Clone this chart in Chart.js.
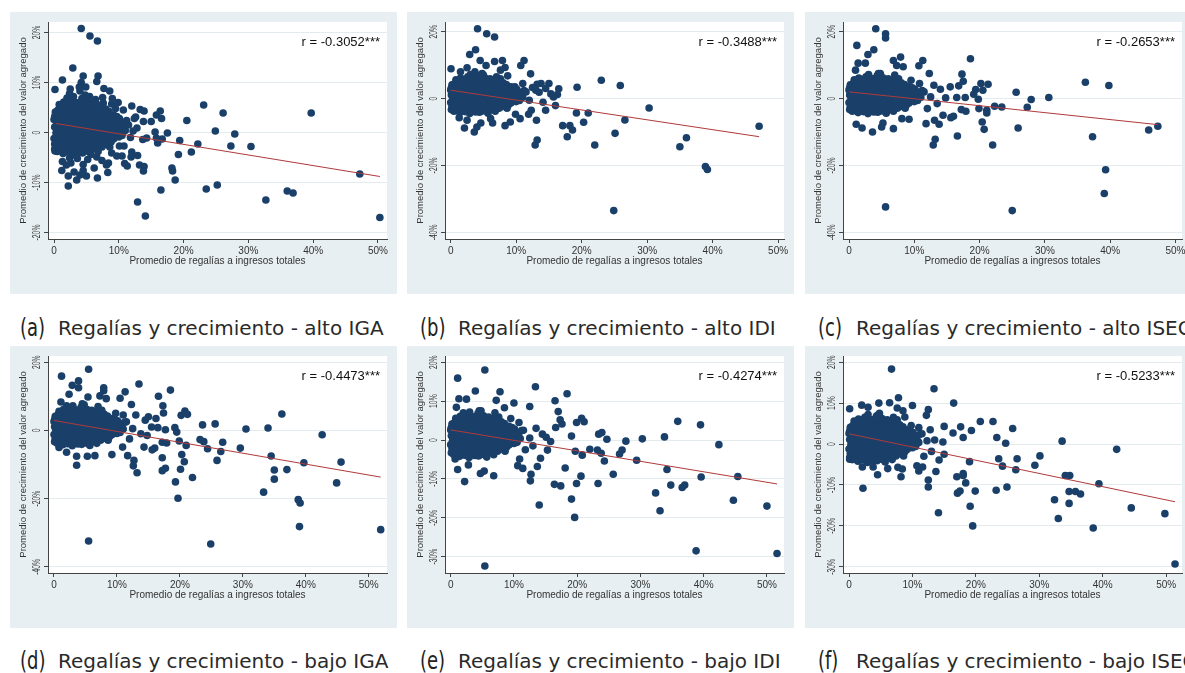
<!DOCTYPE html>
<html>
<head>
<meta charset="utf-8">
<script src="https://cdn.jsdelivr.net/npm/chart.js@4.4.0/dist/chart.umd.min.js"></script>
<style>
  body { margin: 0; background: #fff; width: 1185px; height: 673px; overflow: hidden; position: relative; }
  canvas { position: absolute; }
  .lbl { position: absolute; font-family: "DejaVu Sans", sans-serif; font-size: 25px; color: #222; line-height: 30px; transform: scaleX(0.72); transform-origin: left center; white-space: nowrap; }
  .txt { position: absolute; font-family: "DejaVu Sans", sans-serif; font-size: 20px; color: #2a2a2a; line-height: 30px; white-space: nowrap; }
</style>
</head>
<body>
<canvas id="pa" width="387" height="282"></canvas>
<canvas id="pb" width="387" height="282"></canvas>
<canvas id="pc" width="387" height="282"></canvas>
<canvas id="pd" width="387" height="282"></canvas>
<canvas id="pe" width="387" height="282"></canvas>
<canvas id="pf" width="387" height="282"></canvas>
<script>
// núcleo denso común (x: % regalías, y: % crecimiento)
const nucleo = [
  [0.2,4.1],[1.1,5.2],[2.0,4.8],[2.9,5.3],[3.8,4.9],[4.6,5.4],[5.5,5.0],[6.3,4.6],[7.2,5.1],[8.0,4.7],
  [0.1,3.2],[0.8,3.8],[1.6,3.1],[2.4,3.9],[3.3,3.0],[4.1,3.7],[5.0,3.2],[5.8,3.9],[6.7,3.1],[7.5,3.6],[8.4,3.0],[9.2,3.5],[10.1,2.8],
  [0.4,2.1],[1.2,2.6],[2.0,1.9],[2.9,2.5],[3.7,2.0],[4.6,2.7],[5.4,1.8],[6.3,2.4],[7.1,2.0],[8.0,2.6],[8.8,1.9],[9.7,2.3],[10.6,1.7],
  [0.1,1.1],[0.9,0.7],[1.7,1.3],[2.5,0.8],[3.4,1.2],[4.2,0.6],[5.1,1.1],[5.9,0.7],[6.8,1.3],[7.6,0.8],[8.5,1.0],[9.3,0.5],[10.2,0.9],[11.0,0.4],
  [0.3,-0.1],[1.1,0.2],[1.9,-0.3],[2.8,0.1],[3.6,-0.2],[4.5,0.3],[5.3,-0.4],[6.2,0.0],[7.0,-0.3],[7.9,0.2],[8.7,-0.5],[9.6,-0.1],[10.5,-0.6],
  [0.0,-1.2],[0.8,-0.9],[1.6,-1.4],[2.4,-1.0],[3.2,-1.5],[4.1,-1.1],[4.9,-1.6],[5.8,-1.0],[6.6,-1.4],[7.5,-1.2],[8.3,-1.7],[9.2,-1.3],
  [0.2,-2.3],[1.0,-2.0],[1.8,-2.5],[2.7,-2.1],[3.5,-2.6],[4.4,-2.2],[5.2,-2.7],[6.1,-2.3],[6.9,-2.8],[7.8,-2.4],[8.6,-2.9],
  [0.1,-3.3],[0.9,-3.0],[1.7,-3.6],[2.6,-3.2],[3.4,-3.7],[4.3,-3.1],[5.1,-3.5],[6.0,-3.3],[6.8,-3.8],
  [1.4,-4.2],[2.9,-4.5],[4.4,-4.1],[5.7,-4.4],
  [1.5,6.1],[2.6,6.5],[3.4,6.0],[4.3,6.8],[5.2,6.2],[6.0,5.9],[3.0,7.2],[4.8,7.5]
];

// puntos intermedios del núcleo
const nucleo2 = [
  [0.8,5.6],[1.9,5.8],[3.2,5.7],[4.0,5.9],[5.0,5.7],[6.8,5.5],[7.6,5.9],
  [0.6,4.5],[1.5,4.4],[2.4,4.6],[3.3,4.3],[4.2,4.5],[5.0,4.4],[5.9,4.6],[6.8,4.3],[7.6,4.4],[8.5,4.2],
  [0.4,3.6],[1.2,3.4],[2.0,3.5],[2.8,3.4],[3.7,3.6],[4.6,3.3],[5.4,3.5],[6.2,3.4],[7.1,3.6],[8.0,3.3],[8.8,3.5],[9.7,3.2],
  [0.0,2.6],[0.8,2.4],[1.6,2.5],[2.5,2.3],[3.3,2.6],[4.2,2.4],[5.0,2.5],[5.9,2.3],[6.7,2.6],[7.6,2.3],[8.4,2.5],[9.3,2.7],[10.2,2.2],[11.2,2.4],
  [0.5,1.6],[1.3,1.4],[2.1,1.5],[3.0,1.7],[3.8,1.4],[4.7,1.6],[5.5,1.3],[6.4,1.5],[7.2,1.7],[8.1,1.4],[8.9,1.5],[9.8,1.3],[10.7,1.5],
  [0.4,0.5],[1.3,0.6],[2.1,0.4],[3.0,0.5],[3.8,0.7],[4.7,0.4],[5.5,0.5],[6.4,0.6],[7.2,0.4],[8.1,0.5],[8.9,0.3],[9.8,0.6],[10.7,0.2],
  [0.4,-0.6],[1.2,-0.5],[2.0,-0.7],[2.9,-0.4],[3.7,-0.6],[4.6,-0.8],[5.4,-0.5],[6.3,-0.7],[7.1,-0.6],[8.0,-0.8],[9.1,-0.7],[10.0,-0.9],
  [0.4,-1.6],[1.2,-1.8],[2.0,-1.5],[2.9,-1.8],[3.7,-1.6],[4.5,-1.9],[5.4,-1.7],[6.2,-1.8],[7.1,-1.6],[7.9,-2.0],[8.8,-1.9],
  [0.6,-2.7],[1.4,-2.9],[2.3,-2.6],[3.1,-2.9],[3.9,-2.8],[4.8,-3.0],[5.6,-2.8],[6.5,-3.0],[7.4,-2.9],
  [0.5,-3.8],[1.3,-3.4],[2.2,-3.9],[3.0,-3.6],[3.8,-4.0],[4.7,-3.8],[5.5,-3.9]
];

const extraA = [
  [4.2,20.8],[5.55,19.3],[6.7,18.3],[2.9,12.9],[1.3,10.5],[4.5,11.3],[6.8,11.3],[6.6,10.2],[0.15,8.6],[4.2,10.0],
  [4.9,9.1],[3.9,9.1],[2.5,8.7],[7.7,8.8],[8.6,8.3],[4.0,8.3],[2.4,7.8],[9.9,6.0],[8.9,5.7],[0.9,5.1],
  [10.7,4.5],[12.0,5.3],[13.3,4.6],[13.9,4.3],[16.4,4.3],[16.6,2.8],[15.8,3.5],[23.1,5.5],[26.1,3.9],[39.7,3.9],
  [20.5,2.4],[15.0,2.2],[13.8,2.2],[12.4,2.8],[12.6,3.1],[24.9,0.3],[27.9,-0.3],[17.5,-0.1],[15.6,0.1],[19.4,-1.6],
  [22.2,-2.3],[27.3,-2.7],[30.4,-2.8],[21.2,-3.9],[16.7,-1.3],[16.0,-2.1],[15.8,-1.1],[14.3,-1.1],[13.7,-1.4],[19.2,-4.4],
  [18.2,-7.1],[18.3,-7.7],[18.7,-9.5],[16.5,-11.5],[23.5,-11.3],[25.2,-10.5],[12.9,-13.9],[14.1,-16.7],[32.7,-13.5],[36.0,-11.7],
  [36.9,-12.1],[47.2,-8.3],[50.3,-17.0],[12.9,-4.6],[11.9,-4.9],[13.2,-6.5],[13.9,-6.8],[13.8,-7.7],[12.0,-3.9],[10.8,-2.7],
  [10.1,-2.7],[9.7,-4.7],[10.5,-4.7],[8.9,-4.1],[8.4,-6.1],[8.1,-6.5],[8.3,-8.0],[6.7,-9.1],[6.2,-7.1],[5.0,-8.7],
  [4.0,-8.5],[3.5,-9.5],[2.2,-10.7],[2.2,-8.7],[3.1,-7.9],[1.2,-7.6],[1.3,-5.8],[1.9,-6.5],[2.6,-6.1],[4.5,-6.4],
  [4.5,-7.6],[10.9,-6.2],[11.3,-6.7],[0.15,-3.7],[0.1,-2.3],[11.5,1.5],[12.2,0.3],[11.8,-1.0],[12.8,0.9],[9.5,4.8],
  [7.5,7.0],[5.5,7.2],[3.6,-5.2],[5.2,-5.4],[6.6,-4.9],[7.4,-5.6],[2.4,-5.1],[9.0,6.8],[6.4,6.6],[2.0,6.9]
];

const extraB = [
  [4.1,20.9],[5.5,19.4],[6.7,18.4],[3.8,14.6],[2.9,13.2],[11.2,11.4],[7.9,11.4],[6.7,11.1],[4.5,11.4],[5.4,9.9],
  [10.7,9.9],[8.3,9.3],[7.6,8.5],[0.05,8.9],[2.5,9.2],[1.5,8.0],[3.7,8.0],[12.2,7.4],[8.7,6.8],[23.0,5.5],
  [25.9,3.9],[19.3,3.4],[15.0,4.5],[13.8,4.5],[13.2,4.3],[16.5,2.9],[16.3,1.2],[15.7,0.5],[15.3,1.4],[13.5,1.9],
  [12.5,3.3],[14.1,-1.1],[16.0,-2.1],[14.5,-3.5],[12.3,-3.5],[11.9,-4.7],[13.1,-6.5],[10.6,-6.0],[9.9,-4.7],[9.1,-7.0],
  [8.3,-8.1],[19.2,-4.3],[21.0,-4.3],[20.3,-7.1],[18.2,-8.1],[17.1,-8.1],[18.6,-9.4],[17.8,-11.4],[30.3,-2.8],[26.6,-6.4],
  [25.1,-10.4],[22.0,-13.9],[13.2,-12.4],[12.9,-13.9],[35.0,-14.4],[36.0,-11.7],[47.1,-8.3],[38.9,-20.3],[39.2,-21.2],[24.9,-33.5],
  [2.1,-8.8],[3.6,-10.0],[4.0,-8.5],[4.6,-7.3],[6.4,-7.3],[6.1,-6.0],[2.5,-6.5],[1.3,-5.7],[11.5,2.0],[10.8,0.5],
  [12.0,-0.5],[9.8,3.5],[11.0,4.5],[13.0,2.5],[14.5,3.0],[7.0,6.5],[5.0,7.0],[3.0,6.8]
];

const extraC = [
  [4.1,20.9],[5.6,19.4],[5.6,18.1],[1.2,15.9],[3.8,14.6],[2.9,13.2],[7.9,12.4],[18.6,11.9],[11.3,11.4],[6.8,11.4],
  [1.4,10.6],[2.5,10.6],[7.3,9.9],[10.7,9.8],[8.3,9.5],[12.3,7.5],[17.3,7.3],[1.0,8.5],[36.2,4.9],[39.8,3.9],
  [21.3,4.3],[20.2,4.5],[17.5,5.2],[25.6,1.9],[30.6,0.3],[27.9,-0.3],[27.3,-2.6],[23.4,-2.5],[22.3,-2.3],[20.5,2.5],
  [19.4,2.7],[19.1,1.3],[19.8,-0.2],[19.9,-3.0],[21.1,-3.5],[21.1,-4.3],[20.4,-7.0],[20.7,-9.2],[25.9,-8.8],[16.5,0.3],
  [17.8,0.3],[17.9,-3.8],[17.2,-3.3],[16.0,-5.3],[15.6,-5.7],[14.4,-5.0],[13.8,-7.7],[13.1,-6.5],[11.8,-7.5],[16.6,-11.2],
  [13.2,-12.2],[12.9,-13.9],[22.0,-13.9],[37.3,-11.4],[45.9,-9.4],[47.3,-8.3],[39.3,-21.3],[39.1,-28.4],[5.6,-32.4],[25.0,-33.5],
  [2.0,-8.8],[3.6,-10.0],[5.0,-8.5],[6.8,-9.0],[5.2,-7.3],[1.1,-7.7],[9.2,-6.2],[8.1,-6.0],[11.5,2.0],[12.5,0.5],
  [13.5,-1.5],[14.0,2.8],[13.0,4.0],[15.5,3.5],[16.8,3.8],[10.8,4.5],[12.0,-3.0],[14.8,0.2],[9.5,5.5],[7.0,7.0],
  [4.5,7.5]
];

const extraD = [
  [5.5,17.9],[1.2,15.9],[3.9,14.5],[2.9,13.2],[3.9,12.5],[13.5,13.6],[7.9,12.5],[7.9,11.6],[11.3,11.3],[18.5,11.8],
  [16.6,10.0],[7.3,10.1],[2.4,10.6],[5.4,9.8],[10.5,9.4],[8.3,9.3],[1.1,8.3],[12.3,7.6],[17.3,7.2],[36.2,4.8],
  [20.8,5.7],[20.2,4.4],[21.2,4.7],[17.4,5.1],[25.6,1.9],[23.6,1.6],[34.0,0.7],[30.5,0.4],[42.6,-1.3],[26.8,-3.5],
  [26.5,-6.2],[25.9,-8.8],[24.4,-5.4],[23.8,-3.3],[23.2,-2.7],[29.6,-5.2],[34.5,-7.5],[35.0,-11.6],[37.0,-11.5],[35.0,-14.3],
  [39.7,-9.5],[45.6,-9.3],[44.9,-15.4],[33.3,-18.1],[38.8,-20.3],[39.1,-21.3],[39.0,-28.2],[51.9,-29.1],[24.9,-33.3],[5.5,-32.4],
  [22.0,-13.8],[19.3,-15.1],[19.7,-19.9],[20.1,-11.4],[20.7,-9.2],[20.3,-7.1],[19.9,-3.1],[21.0,-4.4],[17.7,-11.1],[17.2,-11.8],
  [17.2,-8.0],[17.9,-3.7],[17.2,-3.5],[19.5,-0.5],[19.2,0.8],[17.7,0.2],[16.0,-5.2],[15.6,-5.7],[14.3,-4.9],[13.2,-12.4],
  [12.6,-10.4],[12.7,-8.8],[11.7,-7.4],[10.9,-4.9],[9.2,-7.1],[5.3,-7.6],[6.5,-7.4],[3.6,-7.6],[3.6,-10.2],[0.8,-5.0],
  [2.0,-6.4],[11.5,2.5],[12.5,0.5],[13.8,-1.0],[14.5,3.0],[13.0,4.5],[15.0,4.0],[16.2,3.5],[15.5,1.0],[11.0,4.5],
  [12.0,-2.5],[14.8,-1.5],[16.5,0.8],[9.8,5.0],[7.0,7.0],[4.5,7.8],[2.0,7.2]
];

const extraE = [
  [5.4,18.0],[1.1,15.9],[13.4,13.7],[3.9,12.6],[7.8,12.4],[18.4,11.9],[16.5,10.1],[7.2,10.2],[1.3,10.6],[10.0,9.5],
  [2.5,10.5],[8.5,8.3],[0.9,8.4],[12.5,8.6],[17.0,7.3],[35.9,4.8],[39.5,3.9],[20.7,5.6],[19.9,4.5],[21.1,4.7],
  [17.3,5.2],[23.9,1.9],[23.4,1.5],[24.7,0.2],[30.3,0.3],[33.8,0.8],[42.4,-1.2],[27.7,-0.3],[27.1,-2.6],[26.7,-3.6],
  [23.2,-2.6],[22.0,-2.4],[23.8,-3.4],[24.3,-5.4],[29.4,-5.2],[25.7,-8.8],[34.2,-7.6],[20.6,-9.3],[20.8,-3.9],[19.7,-2.9],
  [19.9,-11.2],[23.3,-11.2],[17.4,-11.8],[16.4,-11.4],[19.1,-15.2],[19.6,-19.9],[18.1,-7.2],[32.4,-13.6],[33.1,-18.2],[34.8,-11.6],
  [36.6,-12.2],[37.0,-11.6],[39.6,-9.5],[45.4,-9.4],[44.7,-15.5],[50.0,-17.0],[38.8,-28.5],[51.6,-29.2],[5.4,-32.4],[14.0,-16.7],
  [12.6,-10.5],[12.7,-8.8],[13.7,-6.8],[14.2,-4.7],[11.4,-7.3],[10.9,-4.9],[10.6,-6.6],[6.8,-9.2],[5.3,-8.0],[4.7,-8.6],
  [2.2,-10.7],[1.1,-7.6],[0.7,-4.9],[2.8,-6.4],[15.3,-2.6],[15.8,-0.4],[16.6,3.2],[17.6,4.1],[15.1,0.7],[19.1,1.0],
  [11.5,2.5],[12.5,0.5],[13.5,3.0],[14.5,1.5],[13.0,-1.5],[11.8,-2.5],[10.8,4.5],[9.5,5.5],[7.0,7.0],[4.5,7.5],
  [2.0,7.0]
];

const extraF = [
  [6.7,18.3],[13.4,13.5],[7.8,11.3],[16.5,10.0],[6.4,10.1],[4.7,10.0],[0.1,8.6],[2.0,9.5],[3.0,9.0],[10.0,9.4],
  [7.6,8.8],[8.5,8.1],[12.5,8.4],[8.8,6.6],[12.2,7.0],[22.7,5.5],[20.7,5.5],[25.8,3.8],[17.6,4.2],[19.3,3.3],
  [15.0,4.3],[16.4,2.7],[18.0,1.6],[23.3,1.6],[24.7,0.2],[33.6,0.7],[42.2,-1.3],[30.1,-2.9],[26.5,-3.6],[23.6,-3.6],
  [24.2,-5.4],[29.3,-5.2],[26.3,-6.3],[34.1,-7.7],[19.0,-4.3],[17.0,-8.0],[18.0,-7.2],[18.0,-7.7],[18.4,-9.5],[24.9,-10.5],
  [23.2,-11.3],[19.9,-11.5],[17.5,-11.5],[17.1,-12.0],[19.1,-15.2],[19.5,-20.0],[14.1,-16.8],[12.5,-10.5],[12.5,-8.8],[13.7,-6.7],
  [15.0,-2.5],[14.2,-3.9],[11.0,-6.6],[10.7,-5.3],[11.6,-5.6],[8.2,-8.0],[7.7,-5.7],[8.4,-6.1],[6.1,-6.0],[4.5,-7.5],
  [3.8,-5.6],[2.1,-5.6],[2.2,-10.8],[34.8,-7.7],[34.7,-11.6],[34.7,-14.5],[35.7,-11.6],[36.5,-12.2],[32.4,-13.6],[33.0,-18.2],
  [38.5,-20.5],[39.4,-9.7],[44.5,-15.6],[49.8,-17.0],[51.4,-29.3],[0.1,-3.7],[0.9,-3.7],[11.5,2.5],[12.3,0.8],[13.5,1.0],
  [14.8,0.5],[12.8,3.5],[11.0,4.0],[13.0,-1.8],[11.8,-3.0],[9.8,4.5],[7.0,6.5],[4.5,7.0],[2.5,6.5]
];

// recta de ajuste (extremos)
const ajusteA = [[0.3,1.8],[50.3,-8.8]];
const ajusteB = [[0.0,2.5],[47.1,-11.4]];
const ajusteC = [[0.1,2.0],[47.3,-7.8]];
const ajusteD = [[0.0,2.9],[51.9,-13.7]];
const ajusteE = [[0.0,2.6],[51.6,-11.3]];
const ajusteF = [[0.0,2.5],[51.4,-14.1]];

const correlaciones = ['-0.3052', '-0.3488', '-0.2653', '-0.4473', '-0.4274', '-0.5233'];
const xTicks = [0, 10, 20, 30, 40, 50];
const yTicksA = [-20, -10, 0, 10, 20];
const yTicksB = [-40, -20, 0, 20];
const yTicksE = [-30, -20, -10, 0, 10, 20];
const letras = ['(a)', '(b)', '(c)', '(d)', '(e)', '(f)'];
const subtitulos = [
  'Regalías y crecimiento - alto IGA', 'Regalías y crecimiento - alto IDI', 'Regalías y crecimiento - alto ISEG',
  'Regalías y crecimiento - bajo IGA', 'Regalías y crecimiento - bajo IDI', 'Regalías y crecimiento - bajo ISEG'
];

const FONT = '"Liberation Sans", Arial, sans-serif';
const NAVY = '#1a406a';

const panels = [
  { id: 'pa', left: 10,  top: 12,  pts: extraA, fit: ajusteA, yt: yTicksA, x: [-0.93, 51.4], y: [-21.3, 22.1] },
  { id: 'pb', left: 407, top: 12,  pts: extraB, fit: ajusteB, yt: yTicksB, x: [-0.87, 50.9], y: [-42.0, 22.9] },
  { id: 'pc', left: 805, top: 12,  pts: extraC, fit: ajusteC, yt: yTicksB, x: [-0.92, 51.0], y: [-42.0, 22.9] },
  { id: 'pd', left: 10,  top: 346, pts: extraD, fit: ajusteD, yt: yTicksB, x: [-0.95, 52.9], y: [-41.8, 21.8] },
  { id: 'pe', left: 407, top: 346, pts: extraE, fit: ajusteE, yt: yTicksE, x: [-0.90, 52.7], y: [-34.2, 21.6] },
  { id: 'pf', left: 805, top: 346, pts: extraF, fit: ajusteF, yt: yTicksE, x: [-0.95, 52.5], y: [-31.5, 21.5] }
];

const captionX = [20, 420, 818];
const captionY = [313, 646];

// fondo del panel, área blanca, etiquetas verticales del eje y y la r
const decor = {
  id: 'decor',
  beforeDraw(chart) {
    const { ctx, chartArea: a } = chart;
    ctx.save();
    ctx.fillStyle = '#e8eff2';
    ctx.fillRect(0, 0, chart.width, chart.height);
    ctx.fillStyle = '#fff';
    ctx.fillRect(a.left, a.top, a.right - a.left, a.bottom - a.top);
    ctx.restore();
  },
  afterDraw(chart, args, opts) {
    const { ctx, chartArea: a } = chart;
    const y = chart.scales.y;
    ctx.save();
    ctx.fillStyle = '#333';
    ctx.font = '10px ' + FONT;
    ctx.textAlign = 'center';
    ctx.textBaseline = 'middle';
    y.ticks.forEach(t => {
      ctx.save();
      ctx.translate(a.left - 10.5, y.getPixelForValue(t.value));
      ctx.rotate(-Math.PI / 2);
      ctx.scale(0.68, 1);
      ctx.fillText(t.value === 0 ? '0' : t.value + '%', 0, 0);
      ctx.restore();
    });
    ctx.fillStyle = '#111';
    ctx.font = '13px ' + FONT;
    ctx.textAlign = 'right';
    ctx.fillText('r = ' + opts.r + '***', a.right - 7, a.top + 20);
    ctx.restore();
  }
};

panels.forEach((p, i) => {
  const cv = document.getElementById(p.id);
  cv.style.left = p.left + 'px';
  cv.style.top = p.top + 'px';
  const pts = nucleo.concat(nucleo2, p.pts).map(([x, y]) => ({ x, y }));

  new Chart(cv, {
    type: 'scatter',
    plugins: [decor],
    data: {
      datasets: [
        {
          type: 'line',
          data: p.fit.map(([x, y]) => ({ x, y })),
          borderColor: '#b03a3a',
          borderWidth: 1,
          pointRadius: 0,
          fill: false
        },
        {
          data: pts,
          backgroundColor: NAVY,
          borderWidth: 0,
          pointRadius: 3.8
        }
      ]
    },
    options: {
      responsive: false,
      animation: false,
      devicePixelRatio: 1,
      layout: { padding: { top: 10, right: 10, left: 0, bottom: 0 } },
      plugins: {
        legend: { display: false },
        tooltip: { enabled: false },
        decor: { r: correlaciones[i] }
      },
      scales: {
        x: {
          type: 'linear',
          min: p.x[0], max: p.x[1],
          afterBuildTicks: s => { s.ticks = xTicks.map(v => ({ value: v })); },
          afterFit: s => { s.height = 55; },
          ticks: {
            callback: v => v === 0 ? '0' : v + '%',
            font: { size: 10, family: FONT },
            color: '#333',
            padding: 2,
            maxRotation: 0,
            autoSkip: false
          },
          grid: { drawOnChartArea: false, tickLength: 4, tickColor: '#444' },
          border: { color: '#444', width: 1 },
          title: {
            display: true,
            text: 'Promedio de regalías a ingresos totales',
            font: { size: 10, family: FONT },
            color: '#333',
            padding: { top: 0, bottom: 27 }
          }
        },
        y: {
          type: 'linear',
          min: p.y[0], max: p.y[1],
          afterBuildTicks: s => { s.ticks = p.yt.map(v => ({ value: v })); },
          afterFit: s => { s.width = 38; },
          ticks: { display: false },
          grid: { color: '#e3ebee', lineWidth: 1, tickLength: 4, tickColor: '#444' },
          border: { color: '#444', width: 1 },
          title: {
            display: true,
            text: 'Promedio de crecimiento del valor agregado',
            font: { size: 9.5, family: FONT },
            color: '#333',
            padding: { top: 8, bottom: 0 }
          }
        }
      }
    }
  });

  const lb = document.createElement('div');
  lb.className = 'lbl';
  lb.textContent = letras[i];
  lb.style.left = captionX[i % 3] + 'px';
  lb.style.top = captionY[Math.floor(i / 3)] + 'px';
  document.body.appendChild(lb);

  const tx = document.createElement('div');
  tx.className = 'txt';
  tx.textContent = subtitulos[i];
  tx.style.left = (captionX[i % 3] + 38) + 'px';
  tx.style.top = captionY[Math.floor(i / 3)] + 'px';
  document.body.appendChild(tx);
});
</script>
</body>
</html>
